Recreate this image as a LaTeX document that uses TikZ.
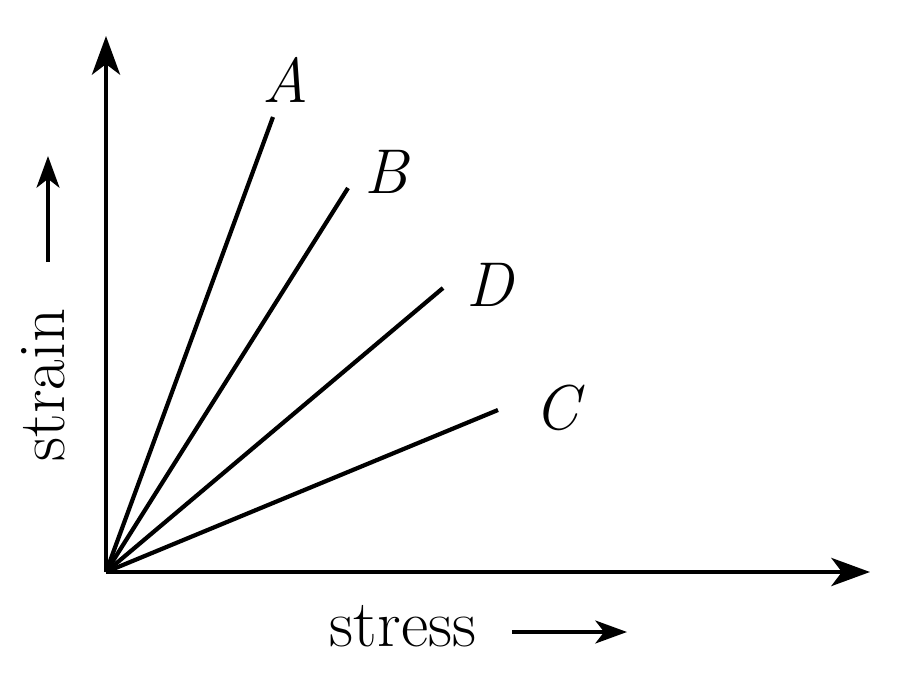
\documentclass[tikz,border=0pt]{standalone}
\usetikzlibrary{arrows.meta}
\begin{document}
\begin{tikzpicture}[x=0.02cm,y=-0.02cm,
  ax/.style={line width=2.4pt,-{Stealth[length=22pt,width=16pt,inset=6pt]}},
  ln/.style={line width=2.4pt},
  lab/.style={font=\fontsize{36}{40}\selectfont\itshape,inner sep=0pt},
  txt/.style={font=\fontsize{38}{42}\selectfont,inner sep=0pt}]
\useasboundingbox (0,0) rectangle (900,679);
\coordinate (O) at (106,572);
\coordinate (Y) at (106,36);
\coordinate (X) at (870,572);
\draw[ax] (O) -- (Y);
\draw[ax] (O) -- (X);
\coordinate (a) at (273,117);
\coordinate (b) at (348,188);
\coordinate (d) at (443,288);
\coordinate (c) at (498,410);
\draw[ln] (O) -- (a);
\draw[ln] (O) -- (b);
\draw[ln] (O) -- (d);
\draw[ln] (O) -- (c);
\node[lab] (A) at (285,80) {A};
\node[lab] (B) at (386,172) {B};
\node[lab] (D) at (490,285) {D};
\node[lab] (C) at (557,408) {C};
\node[txt,rotate=90,anchor=base] (st) at (64,385) {strain};
\coordinate (s1) at (48,262);
\coordinate (s2) at (48,156);
\draw[line width=2.4pt,-{Stealth[length=18pt,width=13pt,inset=5pt]}] (s1) -- (s2);
\node[txt,anchor=base] (ss) at (403,646) {stress};
\coordinate (t1) at (512,632);
\coordinate (t2) at (627,632);
\draw[line width=2.4pt,-{Stealth[length=18pt,width=13pt,inset=5pt]}] (t1) -- (t2);
\end{tikzpicture}
\end{document}
